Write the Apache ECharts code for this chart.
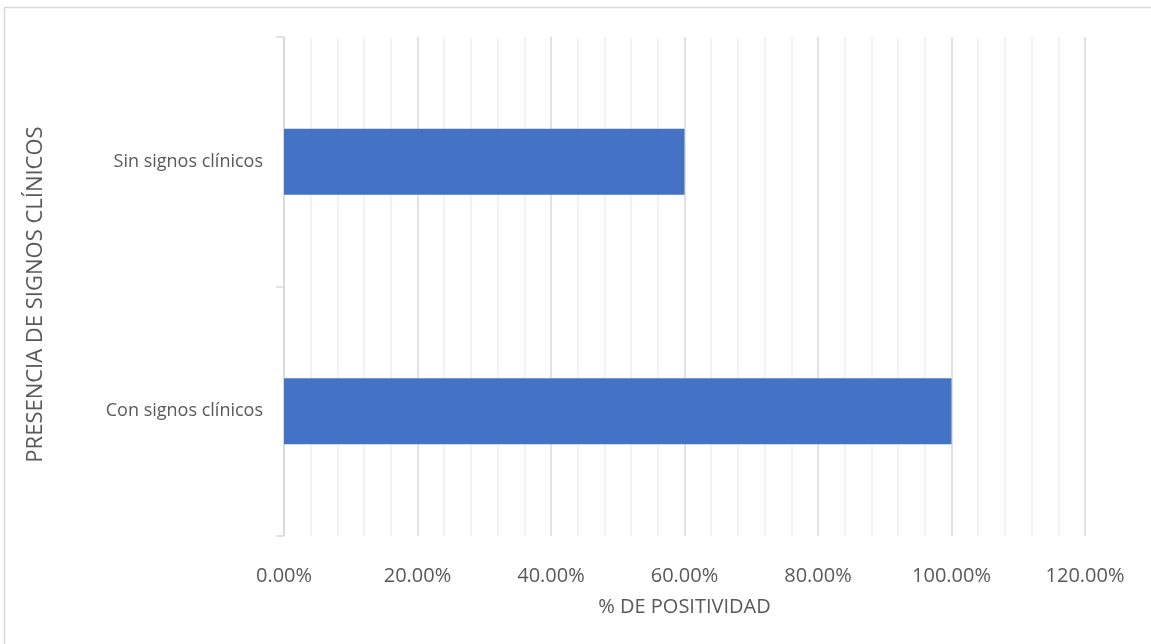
<!DOCTYPE html>
<html>
<head>
<meta charset="utf-8">
<script src="https://cdn.jsdelivr.net/npm/echarts@6/dist/echarts.min.js"></script>
<style>
  html, body { margin: 0; padding: 0; background: #ffffff; }
  #chart { width: 1151px; height: 644px; }
</style>
</head>
<body>
<div id="chart"></div>
<script>
// Categories (bottom to top) and positivity values in percent
const categories = ['Con signos clínicos', 'Sin signos clínicos'];
const positividad = [100, 60];
const xTicks = [0, 20, 40, 60, 80, 100, 120];

const FONT = '"Open Sans", "Liberation Sans", sans-serif';
const TEXT = '#595959';

const chart = echarts.init(document.getElementById('chart'), null, { renderer: 'canvas' });

chart.setOption({
  backgroundColor: '#ffffff',
  animation: false,
  graphic: [{
    type: 'rect',
    shape: { x: 4.5, y: 7.5, width: 1200, height: 700 },
    style: { fill: 'none', stroke: '#d9d9d9', lineWidth: 1.5 },
    silent: true
  }],
  grid: { left: 284, right: 66, top: 37, bottom: 108, containLabel: false },
  xAxis: {
    type: 'value',
    min: xTicks[0],
    max: xTicks[xTicks.length - 1],
    interval: 20,
    name: '% DE POSITIVIDAD',
    nameLocation: 'middle',
    nameGap: 61,
    nameTextStyle: { color: TEXT, fontFamily: FONT, fontSize: 20 },
    axisLine: { show: false },
    axisTick: { show: false },
    axisLabel: {
      color: TEXT, fontFamily: FONT, fontSize: 20, margin: 30,
      formatter: v => v.toFixed(2) + '%'
    },
    splitLine: { show: true, lineStyle: { color: '#d9d9d9', width: 1.5 } },
    minorTick: { show: false, splitNumber: 5 },
    minorSplitLine: { show: true, lineStyle: { color: '#efefef', width: 1.5 } }
  },
  yAxis: {
    type: 'category',
    data: categories,
    name: 'PRESENCIA DE SIGNOS CLÍNICOS',
    nameLocation: 'middle',
    nameGap: 237,
    nameRotate: 90,
    nameTextStyle: { color: TEXT, fontFamily: FONT, fontSize: 22, padding: [0, 16, 0, 0] },
    axisLine: { show: true, lineStyle: { color: '#d9d9d9', width: 1.5 } },
    axisTick: { show: true, length: 8, lineStyle: { color: '#d9d9d9', width: 1.5 } },
    axisLabel: { color: TEXT, fontFamily: FONT, fontSize: 18, margin: 21 },
    splitLine: { show: false }
  },
  series: [{
    type: 'bar',
    data: positividad,
    barWidth: 66,
    itemStyle: { color: '#4472c4' },
    z: 3
  }]
});
</script>
</body>
</html>
